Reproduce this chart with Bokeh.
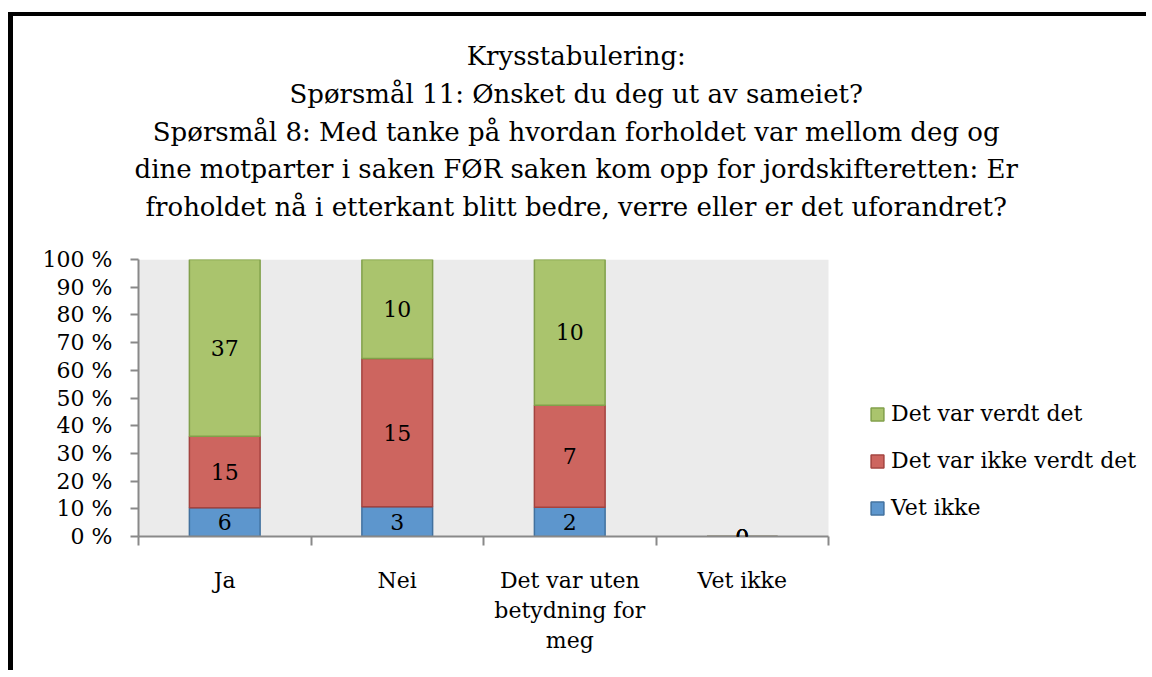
from bokeh.plotting import figure
from bokeh.models import (ColumnDataSource, Range1d, LinearAxis, BoxAnnotation,
                          FixedTicker, CustomJSTickFormatter, Legend, LegendItem, LabelSet)
from bokeh.core.properties import value
from bokeh.embed import file_html
from bokeh.resources import INLINE

# ---------------- data ----------------
categories = ["Ja", "Nei", "Det var uten\nbetydning for\nmeg", "Vet ikke"]
vet_ikke = [6, 3, 2, 0]
ikke_verdt = [15, 15, 7, 0]
verdt = [37, 10, 10, 0]
series_labels = ["Vet ikke", "Det var ikke verdt det", "Det var verdt det"]
y_ticks = [0, 10, 20, 30, 40, 50, 60, 70, 80, 90, 100]
title_lines = [
    "Krysstabulering:",
    "Spørsmål 11: Ønsket du deg ut av sameiet?",
    "Spørsmål 8: Med tanke på hvordan forholdet var mellom deg og",
    "dine motparter i saken FØR saken kom opp for jordskifteretten: Er",
    "froholdet nå i etterkant blitt bedre, verre eller er det uforandret?",
]

# ---------------- styling / layout ----------------
FONT = "DejaVu Serif"
GRAY = "#898989"
fills = ["#5D96CD", "#CD655F", "#AAC46D"]
lines = ["#41719F", "#A4433F", "#81A04A"]
W, H = 1138, 658
BORDER_L, BORDER_T, BORDER_B = 125, 243, 138
PLOT_W = 690          # pixel width of the grey category area

n = len(categories)
series = [vet_ikke, ikke_verdt, verdt]
totals = [sum(v) for v in zip(*series)]
data = {"x": [i + 0.5 for i in range(n)], "cat": categories}
cum = [0.0] * n
for i, s in enumerate(series):
    pct = [(v / t * 100.0) if t else 0.0 for v, t in zip(s, totals)]
    data[f"b{i}"] = list(cum)
    data[f"t{i}"] = [c + q for c, q in zip(cum, pct)]
    data[f"m{i}"] = [c + q / 2 for c, q in zip(cum, pct)]
    data[f"l{i}"] = [str(v) for v in s]
    cum = data[f"t{i}"]
src = ColumnDataSource(data)

x_end = n * (W - BORDER_L) / PLOT_W
p = figure(x_range=Range1d(0, x_end), y_range=Range1d(0, 100),
           width=W, height=H, output_backend="svg", toolbar_location=None,
           x_axis_location=None, y_axis_location="left",
           min_border_left=BORDER_L, min_border_right=0, min_border_top=BORDER_T,
           min_border_bottom=BORDER_B,
           background_fill_color="white", border_fill_color="white", outline_line_color=None,
           styles={"border-left": "5px solid black", "border-top": "4px solid black",
                   "margin-top": "12px", "margin-left": "8px"})
p.grid.visible = False

# grey plot area behind the bars
p.add_layout(BoxAnnotation(left=0, right=n, bottom=0, top=100, fill_color="#EBEBEB",
                           fill_alpha=1, line_color=None, level="underlay"))

renderers = []
for i in range(3):
    r = p.vbar(x="x", bottom=f"b{i}", top=f"t{i}", width=0.41, source=src,
               fill_color=fills[i], line_color=lines[i], line_width=1.5)
    renderers.append(r)
    p.add_layout(LabelSet(x="x", y=f"m{i}", text=f"l{i}", source=src,
                          text_align="center", text_baseline="middle",
                          text_font=value(FONT), text_font_size=value("22px"),
                          text_color="black"))

# y axis
ya = p.yaxis[0]
ya.ticker = FixedTicker(ticks=y_ticks)
ya.formatter = CustomJSTickFormatter(code="return tick + ' %'")
ya.major_label_text_font = FONT
ya.major_label_text_font_size = "22px"
ya.major_label_text_color = "black"
ya.axis_line_color = GRAY
ya.axis_line_width = 2
ya.major_tick_line_color = GRAY
ya.major_tick_line_width = 2
ya.major_tick_in = 0
ya.major_tick_out = 8
ya.minor_tick_line_color = None
ya.major_label_standoff = 18

# x axis: boundary ticks + category labels
edge_axis = LinearAxis(ticker=FixedTicker(ticks=list(range(n + 1))), bounds=(0, n),
                       major_label_text_font_size="0px", major_label_text_alpha=0,
                       axis_line_color=GRAY, axis_line_width=2,
                       major_tick_line_color=GRAY, major_tick_line_width=2,
                       major_tick_in=0, major_tick_out=9, minor_tick_line_color=None,
                       major_label_standoff=0)
p.add_layout(edge_axis, "below")
cat_axis = LinearAxis(ticker=FixedTicker(ticks=data["x"]), bounds=(0, n),
                      formatter=CustomJSTickFormatter(args=dict(names=categories),
                                                      code="return names[Math.floor(tick)]"),
                      axis_line_color=None, major_tick_line_color=None, minor_tick_line_color=None,
                      major_label_text_font=FONT, major_label_text_font_size="22px",
                      major_label_text_color="black", major_label_standoff=16,
                      major_label_text_line_height=1.2)
p.add_layout(cat_axis, "below")

# title (a blank last line lifts the block off the plot area)
p.title.text = "\n".join(title_lines) + "\n "
p.title.align = "left"
p.title.offset = -4
p.title.text_align = "center"
p.title.text_font = FONT
p.title.text_font_size = "26px"
p.title.text_font_style = "normal"
p.title.text_line_height = 1.255
p.title.text_color = "black"
p.title.standoff = 0

# legend
legend = Legend(items=[LegendItem(label=series_labels[i], renderers=[renderers[i]]) for i in (2, 1, 0)],
                location=(731, 16), orientation="vertical",
                border_line_color=None, background_fill_alpha=0,
                label_text_font=FONT, label_text_font_size="22px", label_text_color="black",
                glyph_width=16, glyph_height=16, label_height=22, spacing=22,
                padding=0, margin=0, label_standoff=6)
p.add_layout(legend, "center")

open("out.html", "w").write(file_html(p, INLINE))
